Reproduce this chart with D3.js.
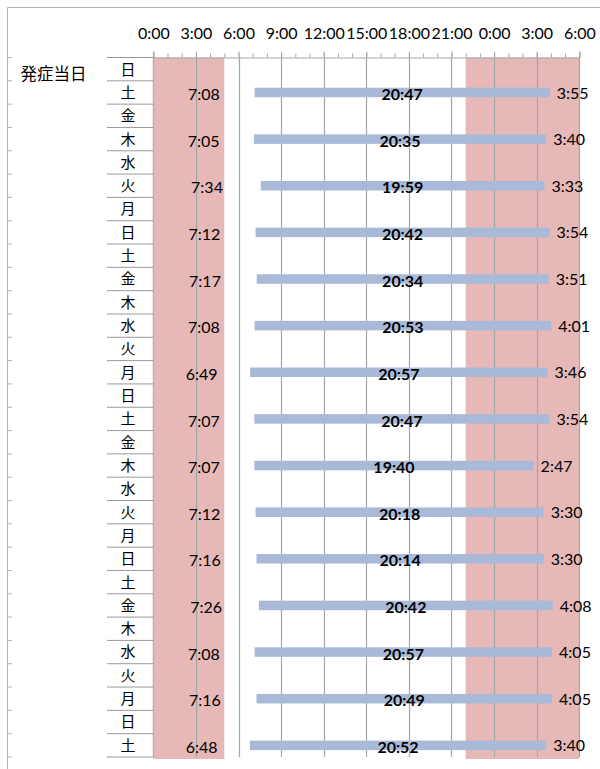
<!DOCTYPE html>
<html><head><meta charset="utf-8">
<script src="https://cdn.jsdelivr.net/npm/d3@7"></script>
<style>
html,body{margin:0;padding:0;background:#fff;}
svg{display:block;}
</style></head>
<body>
<svg id="chart" width="600" height="769"></svg>
<script>
// ---- data ----
const groupLabel = "発症当日";
const dayLabels = ["日","土","金","木","水","火","月",
                   "日","土","金","木","水","火","月",
                   "日","土","金","木","水","火","月",
                   "日","土","金","木","水","火","月",
                   "日","土"];
const barRows   = [1,3,5,7,9,11,13,15,17,19,21,23,25,27,29];
const wakeTimes  = ["7:08","7:05","7:34","7:12","7:17","7:08","6:49","7:07","7:07","7:12","7:16","7:26","7:08","7:16","6:48"];
const sleepTimes = ["3:55","3:40","3:33","3:54","3:51","4:01","3:46","3:54","2:47","3:30","3:30","4:08","4:05","4:05","3:40"];
const durations  = ["20:47","20:35","19:59","20:42","20:34","20:53","20:57","20:47","19:40","20:18","20:14","20:42","20:57","20:49","20:52"];
const nightBands = [[0,5],[22,30]];
const majorTicks = [0,3,6,9,12,15,18,21,24,27,30];
const minorTicks = d3.range(0,31,1);

// ---- helpers ----
const toH = s => { const [h,m] = s.split(":").map(Number); return h + m/60; };

const svg = d3.select("#chart");
const plotTop = 57.5, plotBottom = 757;
const x = d3.scaleLinear().domain([0,30]).range([153.3,579.3]);
const y = d3.scaleBand().domain(d3.range(dayLabels.length)).range([plotTop,plotBottom]);
const rowC = i => y(i) + y.bandwidth()/2;
const latin = "Lato, 'Liberation Sans', sans-serif";
const cjk = "'Noto Sans CJK JP', sans-serif";
const gridCol = "#a6a6a6";
const fs = 16;

// chart border
svg.append("line").attr("x1",7.5).attr("x2",600).attr("y1",7.5).attr("y2",7.5).attr("stroke","#b3b3b3");
svg.append("line").attr("x1",7.5).attr("x2",7.5).attr("y1",7.5).attr("y2",769).attr("stroke","#b3b3b3");

// night bands
svg.append("g").selectAll("rect").data(nightBands).join("rect")
  .attr("x", d => x(d[0])).attr("width", d => x(d[1]) - x(d[0]))
  .attr("y", plotTop).attr("height", 759 - plotTop)
  .attr("fill", "#e6b8b7");

// gridlines
svg.append("g").selectAll("line").data(majorTicks.filter(t => t > 0)).join("line")
  .attr("x1", d => Math.round(x(d)) + 0.5).attr("x2", d => Math.round(x(d)) + 0.5)
  .attr("y1", plotTop).attr("y2", plotBottom)
  .attr("stroke", gridCol).attr("stroke-width", 1.2);

// top axis
const axMajor = d3.axisTop(x).tickValues(majorTicks).tickSize(6).tickPadding(12.5)
  .tickFormat(d => (d % 24) + ":00");
const gA = svg.append("g").attr("transform", `translate(0,${plotTop})`).call(axMajor);
gA.select(".domain").attr("stroke", gridCol);
gA.selectAll(".tick line").attr("stroke", gridCol);
gA.selectAll("text").attr("font-family", latin).attr("font-size", fs).attr("fill", "#000");
const axMinor = d3.axisTop(x).tickValues(minorTicks).tickSize(4).tickFormat("");
const gM = svg.append("g").attr("transform", `translate(0,${plotTop})`).call(axMinor);
gM.select(".domain").remove();
gM.selectAll(".tick line").attr("stroke", gridCol);

// left category axis line
svg.append("line").attr("x1",153.3).attr("x2",153.3).attr("y1",plotTop).attr("y2",plotBottom).attr("stroke",gridCol);

// row separators for day labels and outer ticks
const bounds = d3.range(dayLabels.length + 1).map(i => plotTop + i * y.step());
svg.append("g").selectAll("line").data(bounds).join("line")
  .attr("x1",107).attr("x2",153.3).attr("y1",d=>d).attr("y2",d=>d)
  .attr("stroke","#999");
svg.append("g").selectAll("line").data(bounds).join("line")
  .attr("x1",7.5).attr("x2",12).attr("y1",d=>d).attr("y2",d=>d)
  .attr("stroke","#b3b3b3");

// day labels
svg.append("g").selectAll("text").data(dayLabels).join("text")
  .attr("x",128).attr("y",(d,i)=>rowC(i))
  .attr("dy","0.36em").attr("text-anchor","middle")
  .attr("font-family",cjk).attr("font-size",15).attr("fill","#000")
  .text(d=>d);

// group label
svg.append("text").attr("x",20.5).attr("y",74).attr("dy","0.36em")
  .attr("font-family",cjk).attr("font-size",16.5).attr("fill","#000")
  .text(groupLabel);

// bars
const bars = barRows.map((r,i) => ({
  row: r, wake: toH(wakeTimes[i]), sleep: toH(sleepTimes[i]) + 24,
  wl: wakeTimes[i], sl: sleepTimes[i], dl: durations[i]
}));
const bh = 9.5;
svg.append("g").selectAll("rect").data(bars).join("rect")
  .attr("x", d => x(d.wake)).attr("width", d => x(d.sleep) - x(d.wake))
  .attr("y", d => rowC(d.row) - bh/2).attr("height", bh)
  .attr("fill", "#a9b9d8");

// labels
svg.append("g").selectAll("text").data(bars).join("text")
  .attr("x", d => (x(0) + x(d.wake))/2).attr("y", d => rowC(d.row) + 2)
  .attr("dy","0.35em").attr("text-anchor","middle")
  .attr("font-family",latin).attr("font-size",fs).attr("fill","#000")
  .text(d => d.wl);
svg.append("g").selectAll("text").data(bars).join("text")
  .attr("x", d => (x(d.wake) + x(d.sleep))/2).attr("y", d => rowC(d.row) + 2)
  .attr("dy","0.35em").attr("text-anchor","middle")
  .attr("font-family",latin).attr("font-size",fs).attr("font-weight","bold").attr("fill","#000")
  .text(d => d.dl);
svg.append("g").selectAll("text").data(bars).join("text")
  .attr("x", d => x(d.sleep) + 7).attr("y", d => rowC(d.row) + 0.5)
  .attr("dy","0.35em").attr("text-anchor","start")
  .attr("font-family",latin).attr("font-size",fs).attr("fill","#000")
  .text(d => d.sl);
</script>
</body></html>
